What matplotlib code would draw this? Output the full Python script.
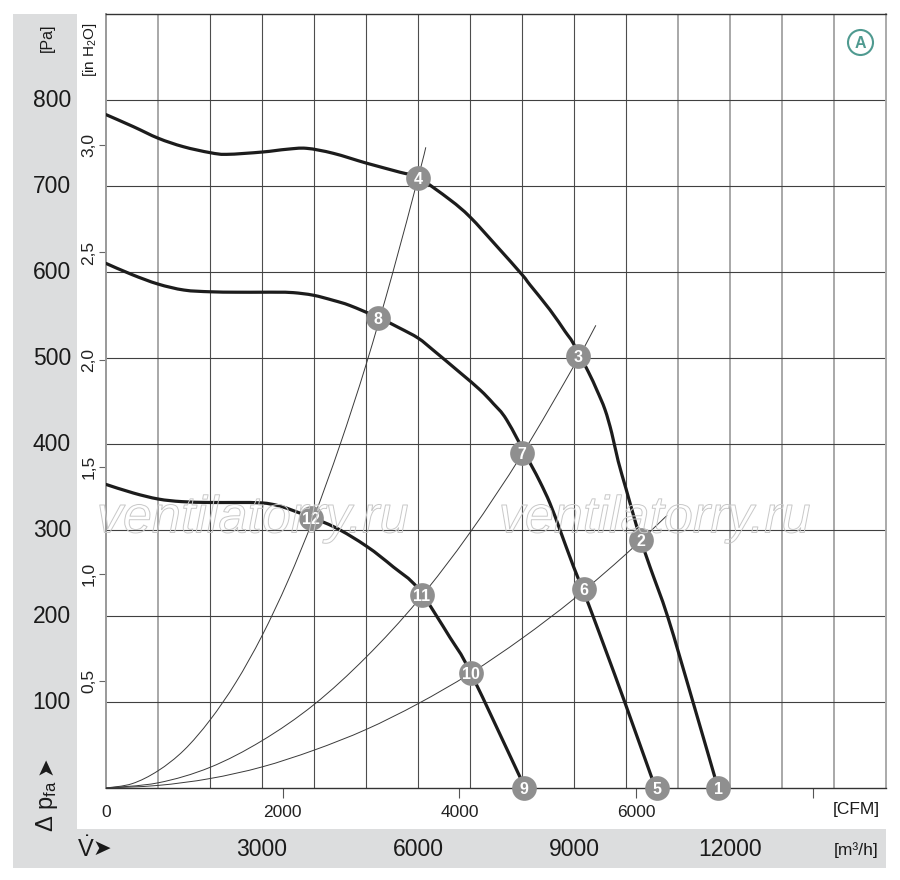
import matplotlib
matplotlib.use("Agg")
import matplotlib.pyplot as plt
import matplotlib.transforms as mtransforms
import matplotlib.patheffects as pe
from matplotlib.patches import Rectangle, PathPatch
from matplotlib.path import Path

# ---------------- data ----------------
# fan curves: flow [m3/h], pressure [Pa]
curve1_q = [0, 526, 1006, 1487, 2000, 2321, 3006, 3474, 3859, 4372, 5013, 5654, 6006,
            6615, 7000, 7500, 8000, 8154, 8538, 8827, 8987, 9275, 9437, 9596, 9725, 9850,
            10000, 10173, 10288, 10462, 10808, 11288, 11769]
curve1_p = [783, 769, 755.5, 745.7, 738.8, 736.8, 739.5, 742.7, 743.8, 738, 726.5, 716, 709.7,
            684, 664, 631, 597, 585, 556, 531, 517, 484, 463, 440, 413, 380,
            348, 311, 288, 257, 198, 100, 0]

curve2_q = [0, 500, 1000, 1500, 2000, 2500, 3000, 3300, 3603, 3987, 4372, 4692, 5237, 5641,
            6006, 6295, 6808, 7192, 7448, 7706, 8154, 8346, 8538, 8731, 8987,
            9200, 9371, 9629, 9981, 10513, 10570]
curve2_p = [610, 597, 586, 579, 577, 576.5, 576.5, 576.5, 576, 573, 567, 561, 547, 535,
            523, 509, 483, 463, 447, 428, 378, 356, 331, 300, 258,
            226, 199, 157, 99, 9, 0]

curve3_q = [0, 526, 1006, 1455, 2000, 2500, 3000, 3300, 3603, 4372, 5013, 5526, 6000,
            6615, 7013, 8060]
curve3_p = [353, 343, 336, 333, 332, 332, 331.5, 328.5, 322.5, 304, 281, 257, 232,
            175, 134, 0]

# system (resistance) curves
sysA_q = [0, 500, 1000, 1500, 2000, 2500, 3000, 3500, 4000, 4500, 5000, 5500, 6000, 6150]
sysA_p = [0, 5, 20, 44, 79, 123, 177, 241, 315, 399, 492, 596, 709, 745]
sysB_q = [0, 1000, 2000, 3000, 4000, 5000, 6000, 7000, 8000, 9000, 9420]
sysB_p = [0, 6, 24, 55, 97, 152, 218, 297, 388, 491, 538]
sysC_q = [0, 1000, 2000, 3000, 4000, 5000, 6000, 7000, 8000, 9000, 10000, 10790]
sysC_p = [0, 3, 11, 24.5, 44, 68, 98, 133, 174, 220, 272, 317]

# operating points
op_labels = ['1', '2', '3', '4', '5', '6', '7', '8', '9', '10', '11', '12']
op_q = [11775, 10288, 9083, 6006, 10590, 9192, 7994, 5237, 8040, 7013, 6071, 3942]
op_p = [0, 288, 502, 709, 0, 231, 390, 547, 0, 134, 224, 314]

# axes ticks
pa_ticks = [100, 200, 300, 400, 500, 600, 700, 800]
inh2o_ticks = [0.5, 1.0, 1.5, 2.0, 2.5, 3.0]
inh2o_labels = ['0,5', '1,0', '1,5', '2,0', '2,5', '3,0']
cfm_ticks = [0, 2000, 4000, 6000, 8000]
cfm_labels = ['0', '2000', '4000', '6000', '']
m3h_ticks = [3000, 6000, 9000, 12000]
PA_PER_INH2O = 249.089
M3H_PER_CFM = 1.699

# ---------------- figure ----------------
FAM = ['Liberation Sans Narrow', 'Liberation Sans', 'DejaVu Sans']
plt.rcParams['font.family'] = FAM
plt.rcParams['mathtext.fontset'] = 'custom'
plt.rcParams['mathtext.rm'] = 'Liberation Sans'
plt.rcParams['mathtext.it'] = 'Liberation Sans:italic'

W, H = 900, 880
fig = plt.figure(figsize=(W / 100, H / 100), dpi=100)
fig.patch.set_facecolor('white')

def fx(px):
    return px / W

def fy(py):
    return 1 - py / H

def smooth_path(q, p):
    """Catmull-Rom spline through the read points, as cubic Bezier path."""
    pts = list(zip(q, p))
    n = len(pts)
    verts = [pts[0]]
    codes = [Path.MOVETO]
    for i in range(n - 1):
        p0 = pts[i - 1] if i > 0 else pts[i]
        p1 = pts[i]
        p2 = pts[i + 1]
        p3 = pts[i + 2] if i + 2 < n else pts[i + 1]
        c1 = (p1[0] + (p2[0] - p0[0]) / 6, p1[1] + (p2[1] - p0[1]) / 6)
        c2 = (p2[0] - (p3[0] - p1[0]) / 6, p2[1] - (p3[1] - p1[1]) / 6)
        verts += [c1, c2, p2]
        codes += [Path.CURVE4] * 3
    return Path(verts, codes)

band = '#dcddde'
fig.patches.append(Rectangle((fx(13), fy(868)), 64 / W, 854 / H, transform=fig.transFigure,
                             facecolor=band, edgecolor='none', zorder=-1))
fig.patches.append(Rectangle((fx(13), fy(868)), 873 / W, 39 / H, transform=fig.transFigure,
                             facecolor=band, edgecolor='none', zorder=-1))

ax = fig.add_axes([fx(106), fy(788), 780 / W, 774 / H])
ax.set_xlim(0, 15000)
ax.set_ylim(0, 900)
ax.set_facecolor('white')

# grid
for gx in range(1000, 15000, 1000):
    if gx <= 1000 or gx >= 11000:
        ax.axvline(gx, color='#a8a8a8', lw=1.4, zorder=1)
    else:
        ax.axvline(gx, color='#4d4d4d', lw=0.8, zorder=1)
for gy in range(100, 900, 100):
    ax.axhline(gy, color='#404040', lw=0.8, zorder=1)

for side in ['top', 'bottom']:
    ax.spines[side].set_color('#333333')
    ax.spines[side].set_linewidth(1.0)
ax.spines['left'].set_color('#999999')
ax.spines['left'].set_linewidth(1.4)
ax.spines['right'].set_color('#aaaaaa')
ax.spines['right'].set_linewidth(1.4)

# watermark
for cx in [253, 655]:
    fig.text(fx(cx), fy(519), 'ventilatorry.ru', ha='center', va='center',
             fontsize=37.5, style='italic', family=['Liberation Sans', 'DejaVu Sans'],
             color=(1, 1, 1, 0), zorder=2,
             path_effects=[pe.Stroke(linewidth=0.7, foreground='#c8c8c8')])

# system curves
for q, p in [(sysA_q, sysA_p), (sysB_q, sysB_p), (sysC_q, sysC_p)]:
    ax.add_patch(PathPatch(smooth_path(q, p), facecolor='none', edgecolor='#3a3a3a',
                           lw=0.7, zorder=3))

# fan curves
for q, p in [(curve1_q, curve1_p), (curve2_q, curve2_p), (curve3_q, curve3_p)]:
    ax.add_patch(PathPatch(smooth_path(q, p), facecolor='none', edgecolor='#1c1c1c',
                           lw=2.3, zorder=4, joinstyle='round', capstyle='round'))

# operating point markers
ax.plot(op_q, op_p, 'o', ms=17.8, color='#8f8f8f', mec='none', zorder=5, clip_on=False)
for q, p, lab in zip(op_q, op_p, op_labels):
    ax.text(q, p, lab, ha='center', va='center_baseline', color='white', fontsize=11.5,
            fontweight='bold', zorder=6, clip_on=False)

# y ticks (in H2O)
ax.set_yticks([v * PA_PER_INH2O for v in inh2o_ticks], labels=inh2o_labels)
ax.tick_params(axis='y', direction='out', length=5, width=0.8, color='#666666',
               labelsize=12.5, pad=2, labelrotation=90, labelcolor='#222222')
for lab in ax.get_yticklabels():
    lab.set_va('center')

# x ticks (CFM)
ax.set_xticks([v * M3H_PER_CFM for v in cfm_ticks], labels=cfm_labels)
ax.tick_params(axis='x', direction='out', length=7, width=0.8, color='#555555',
               labelsize=12.5, pad=5, labelcolor='#222222')
ax.xaxis.get_major_ticks()[0].tick1line.set_visible(False)

# Pa labels in the grey band
tr_pa = mtransforms.blended_transform_factory(fig.transFigure, ax.transData)
for v in pa_ticks:
    ax.text(fx(71), v, str(v), transform=tr_pa, ha='right', va='center', fontsize=16.5,
            color='#1a1a1a', clip_on=False)

# m3/h labels in the bottom band
tr_m3 = mtransforms.blended_transform_factory(ax.transData, fig.transFigure)
for v in m3h_ticks:
    ax.text(v, fy(849), str(v), transform=tr_m3, ha='center', va='center', fontsize=16.5,
            color='#1a1a1a', clip_on=False)

fig.text(fx(856), fy(809), '[CFM]', ha='center', va='center', fontsize=12.5, color='#1a1a1a')
fig.text(fx(856), fy(850), '[m³/h]', ha='center', va='center', fontsize=12.5, color='#1a1a1a')
fig.text(fx(47), fy(38), '[Pa]', ha='center', va='center', rotation=90, fontsize=11.5,
         color='#1a1a1a')
fig.text(fx(90), fy(50), '[in H$_{2}$O]', ha='center', va='center', rotation=90, fontsize=11,
         color='#1a1a1a')
fig.text(fx(47), fy(806), r'$\Delta\ \mathrm{p}_{\mathrm{fa}}$', ha='center', va='center',
         rotation=90, fontsize=17, color='#1a1a1a')
fig.text(fx(45), fy(766), '➤', ha='center', va='center', rotation=90, fontsize=16,
         family=['DejaVu Sans'], color='#1a1a1a')
fig.text(fx(77), fy(849), r'$\dot{\mathrm{V}}$', ha='left', va='center', fontsize=17,
         color='#1a1a1a')
fig.text(fx(93), fy(849), '➤', ha='left', va='center', fontsize=16,
         family=['DejaVu Sans'], color='#1a1a1a')

# circled A
ax.plot([0.9667], [0.9638], 'o', transform=ax.transAxes, ms=18, mfc='white',
        mec='#4f9a90', mew=1.5, zorder=6, clip_on=False)
ax.text(0.9667, 0.9638, 'A', transform=ax.transAxes, ha='center', va='center_baseline',
        fontsize=11.5, fontweight='bold', color='#4f9a90', zorder=7)

fig.savefig('out.png', dpi=100)
